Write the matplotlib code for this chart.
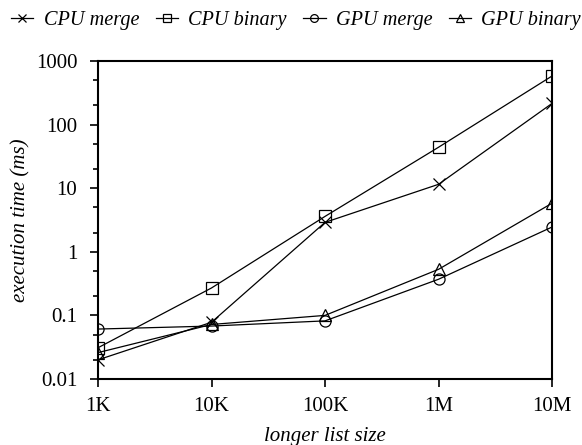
import matplotlib.pyplot as plt
from matplotlib.ticker import FixedLocator, NullFormatter

plt.rcParams['font.family'] = ['Liberation Serif', 'DejaVu Serif']
plt.rcParams['mathtext.fontset'] = 'stix'

# list sizes and measured times (ms)
sizes = [1e3, 1e4, 1e5, 1e6, 1e7]
size_labels = ["1K", "10K", "100K", "1M", "10M"]
cpu_merge = [0.020, 0.078, 2.9, 11.5, 215]
cpu_binary = [0.031, 0.27, 3.6, 44, 580]
gpu_merge = [0.061, 0.068, 0.082, 0.37, 2.45]
gpu_binary = [0.026, 0.072, 0.10, 0.53, 5.8]

series = [
    ("CPU merge", cpu_merge, "x"),
    ("CPU binary", cpu_binary, "s"),
    ("GPU merge", gpu_merge, "o"),
    ("GPU binary", gpu_binary, "^"),
]

fig = plt.figure(figsize=(5.82, 4.45), dpi=100)
ax = fig.add_axes([0.1684, 0.1483, 0.7801, 0.7147])

for name, vals, m in series:
    ax.plot(sizes, vals, color="black", lw=0.9, marker=m, markersize=8,
            markerfacecolor="none", markeredgecolor="black", markeredgewidth=0.9,
            label=name)

ax.set_xscale("log")
ax.set_yscale("log")
ax.set_xlim(1e3, 1e7)
ax.set_ylim(0.01, 1000)

ax.xaxis.set_major_locator(FixedLocator(sizes))
ax.set_xticklabels(size_labels)
ax.xaxis.set_minor_locator(FixedLocator([]))

yt = [0.01, 0.1, 1, 10, 100, 1000]
ax.yaxis.set_major_locator(FixedLocator(yt))
ax.set_yticklabels(["0.01", "0.1", "1", "10", "100", "1000"])
minors = [d * k for d in yt[:-1] for k in (2, 5)]
ax.yaxis.set_minor_locator(FixedLocator(minors))
ax.yaxis.set_minor_formatter(NullFormatter())

ax.tick_params(which="major", direction="out", length=6, width=1.2, labelsize=15)
ax.tick_params(axis="x", which="major", pad=7)
ax.tick_params(axis="y", which="major", pad=9)
ax.tick_params(which="minor", direction="out", length=3.5, width=1.2)
for s in ax.spines.values():
    s.set_linewidth(1.5)

ax.set_xlabel("longer list size", fontsize=15, style="italic", labelpad=8)
ax.set_ylabel("execution time (ms)", fontsize=15, style="italic", labelpad=4)

fig.legend(loc="upper left", bbox_to_anchor=(0.0, 1.0), ncol=4, frameon=False,
           prop={"style": "italic", "size": 14.6}, handlelength=1.1, handletextpad=0.5,
           columnspacing=0.82, borderaxespad=0.0, borderpad=0.55, markerscale=0.7)

plt.savefig("out.png", dpi=100)
